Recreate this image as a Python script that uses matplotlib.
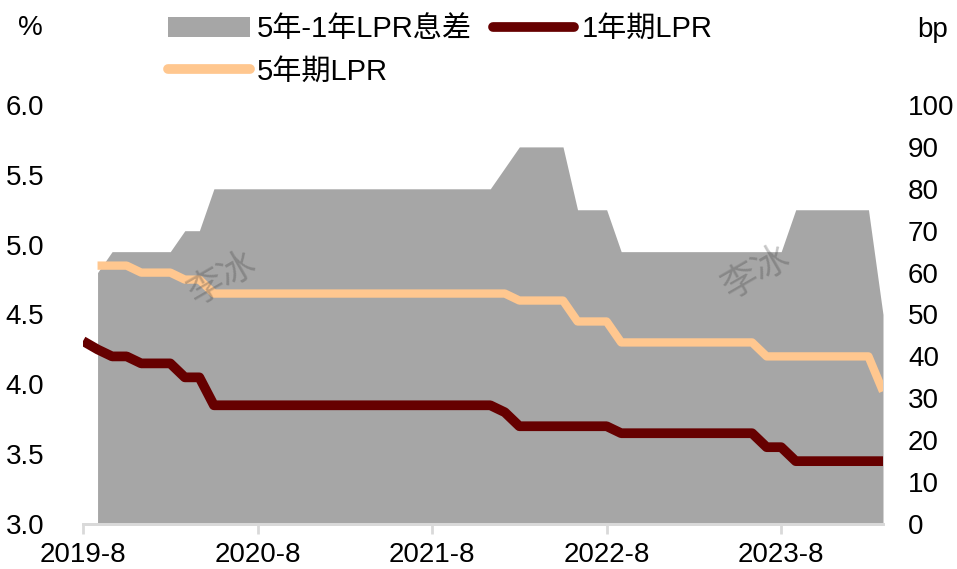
import matplotlib.pyplot as plt
import numpy as np
from matplotlib.patches import Patch
from matplotlib.lines import Line2D

plt.rcParams['font.family'] = ['Liberation Sans', 'Noto Sans CJK SC', 'DejaVu Sans']

# monthly data, first point 2019-7 (old 1Y LPR 4.31), last point 2024-2
lpr_1y = [4.31, 4.25, 4.20, 4.20, 4.15, 4.15, 4.15, 4.05, 4.05, 3.85, 3.85, 3.85,
          3.85, 3.85, 3.85, 3.85, 3.85, 3.85, 3.85, 3.85, 3.85, 3.85, 3.85, 3.85,
          3.85, 3.85, 3.85, 3.85, 3.85, 3.80, 3.70, 3.70, 3.70, 3.70, 3.70, 3.70,
          3.70, 3.65, 3.65, 3.65, 3.65, 3.65, 3.65, 3.65, 3.65, 3.65, 3.65, 3.55,
          3.55, 3.45, 3.45, 3.45, 3.45, 3.45, 3.45, 3.45]
lpr_5y = [np.nan, 4.85, 4.85, 4.85, 4.80, 4.80, 4.80, 4.75, 4.75, 4.65, 4.65, 4.65,
          4.65, 4.65, 4.65, 4.65, 4.65, 4.65, 4.65, 4.65, 4.65, 4.65, 4.65, 4.65,
          4.65, 4.65, 4.65, 4.65, 4.65, 4.65, 4.60, 4.60, 4.60, 4.60, 4.45, 4.45,
          4.45, 4.30, 4.30, 4.30, 4.30, 4.30, 4.30, 4.30, 4.30, 4.30, 4.30, 4.20,
          4.20, 4.20, 4.20, 4.20, 4.20, 4.20, 4.20, 3.95]
spread_bp = [np.nan, 60, 65, 65, 65, 65, 65, 70, 70, 80, 80, 80,
             80, 80, 80, 80, 80, 80, 80, 80, 80, 80, 80, 80,
             80, 80, 80, 80, 80, 85, 90, 90, 90, 90, 75, 75,
             75, 65, 65, 65, 65, 65, 65, 65, 65, 65, 65, 65,
             65, 75, 75, 75, 75, 75, 75, 50]
tick_pos = [0, 12, 24, 36, 48]
tick_labels = ["2019-8", "2020-8", "2021-8", "2022-8", "2023-8"]

label_spread = "5年-1年LPR息差"
label_1y = "1年期LPR"
label_5y = "5年期LPR"

c_gray = "#A6A6A6"
c_1y = "#660000"
c_5y = "#FFC78F"
fs = 20

x = np.arange(len(lpr_1y))

fig = plt.figure(figsize=(9.57, 5.69), dpi=100)
ax = fig.add_axes([83 / 957, 45 / 569, 800 / 957, 419 / 569])
ax2 = ax.twinx()

ax2.fill_between(x, 0, spread_bp, color=c_gray, linewidth=0)
ax.plot(x, lpr_1y, color=c_1y, lw=7, solid_capstyle='butt')
ax.plot(x, lpr_5y, color=c_5y, lw=6, solid_capstyle='butt')

ax.set_zorder(ax2.get_zorder() + 1)
ax.patch.set_visible(False)

ax.set_xlim(0, len(x) - 1)
ax.set_ylim(3.0, 6.0)
ax2.set_ylim(0, 100)
ax.set_yticks(np.arange(3.0, 6.01, 0.5))
ax.set_yticklabels([f"{v:.1f}" for v in np.arange(3.0, 6.01, 0.5)])
ax2.set_yticks(np.arange(0, 101, 10))

ax.set_xticks(tick_pos)
ax.set_xticklabels(tick_labels)

for a in (ax, ax2):
    for s in ("top", "left", "right"):
        a.spines[s].set_visible(False)
    a.spines["bottom"].set_color("#D9D9D9")
    a.spines["bottom"].set_linewidth(2)

ax.tick_params(axis='y', length=0, pad=28, labelsize=fs)
ax2.tick_params(axis='y', length=0, pad=18, labelsize=fs)
ax.tick_params(axis='x', length=7, width=2, color="#D9D9D9", pad=6, labelsize=fs)
ax2.tick_params(axis='x', length=0)

fig.text(30 / 957, 1 - 28 / 569, "%", fontsize=fs, ha='center', va='center')
fig.text(933 / 957, 1 - 30 / 569, "bp", fontsize=fs, ha='center', va='center')

# watermarks
for wx, wy in [(9.6, 4.75), (46.3, 4.80)]:
    ax.text(wx, wy, "李冰", fontsize=26, color="#404040", alpha=0.3,
            rotation=30, ha='center', va='center')

handles = [Patch(facecolor=c_gray, edgecolor='none'),
           Line2D([], [], color=c_5y, lw=7, solid_capstyle='round'),
           Line2D([], [], color=c_1y, lw=7, solid_capstyle='round')]
labels = [label_spread, label_5y, label_1y]
fig.legend(handles, labels, loc='upper left', bbox_to_anchor=(168 / 957, 1 - 15 / 569),
           ncol=2, frameon=False, fontsize=21, handlelength=2.8, handletextpad=0.24,
           columnspacing=0.72, labelspacing=0.5, borderpad=0, borderaxespad=0)

fig.savefig("out.png", dpi=100)
